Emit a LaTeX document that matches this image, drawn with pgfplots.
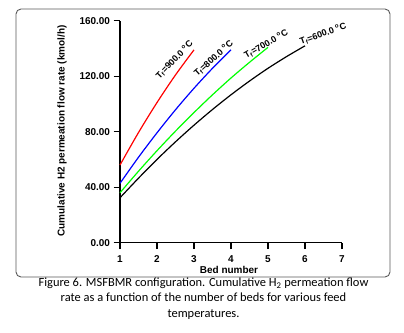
\documentclass[border=0pt]{standalone}
\usepackage{fontspec}
\setmainfont{Liberation Sans}
\newfontfamily\capfont{Carlito}
\usepackage{pgfplots}
\pgfplotsset{compat=1.18}
\begin{document}
\begin{tikzpicture}[x=1bp,y=1bp]
\useasboundingbox (0,0) rectangle (404,333);
\draw[draw=black!65, line width=0.9bp, rounded corners=5bp] (16,56) rectangle (390,324);
\begin{axis}[
  at={(120bp,90.3bp)}, anchor=origin,
  scale only axis, width=222bp, height=222bp,
  xmin=1, xmax=7, ymin=0, ymax=160,
  axis lines=left, axis line style={-, line width=1.4bp},
  enlargelimits=false, clip=false,
  xtick={1,2,3,4,5,6,7}, ytick={0,40,80,120,160},
  tick align=outside, major tick length=6.5bp,
  tick style={line width=1.2bp, black},
  yticklabel style={/pgf/number format/fixed, /pgf/number format/fixed zerofill, /pgf/number format/precision=2},
  xticklabel style={yshift=-3bp},
  /pgf/number format/assume math mode=true,
  ticklabel style={font=\fontsize{10}{12}\selectfont\bfseries},
]
\addplot[red, line width=1.2bp, smooth] coordinates {(1,56) (1.5,79.4) (2,101) (2.5,120.9) (3,139)};
\addplot[blue, line width=1.2bp, smooth] coordinates {(1,42.8) (1.5,61.6) (2,79.2) (2.5,95.8) (3,111.3) (3.5,125.7) (4,139)};
\addplot[green, line width=1.2bp, smooth] coordinates {(1,36) (1.5,51.5) (2,66.3) (2.5,80.4) (3,93.8) (3.5,106.6) (4,118.7) (4.5,130) (5,140.8)};
\addplot[black, line width=1.2bp, smooth] coordinates {(1,32.4) (1.5,46.5) (2,60) (2.5,72.7) (3,84.7) (3.5,96) (4,106.6) (4.5,116.5) (5,125.7) (5.5,134.1) (6,141.9)};
\node[rotate=46, font=\fontsize{9}{10}\selectfont\bfseries] at (axis cs:2.47,131.8) {T\textsubscript{f}=900.0 \textsuperscript{o}C};
\node[rotate=42, font=\fontsize{9}{10}\selectfont\bfseries] at (axis cs:3.53,132.8) {T\textsubscript{f}=800.0 \textsuperscript{o}C};
\node[rotate=30, font=\fontsize{9}{10}\selectfont\bfseries] at (axis cs:4.95,143.2) {T\textsubscript{f}=700.0 \textsuperscript{o}C};
\node[rotate=20, font=\fontsize{9}{10}\selectfont\bfseries] at (axis cs:6.49,150.6) {T\textsubscript{f}=600.0 \textsuperscript{o}C};
\end{axis}
\node[rotate=90, font=\fontsize{10}{12}\selectfont\bfseries] at (62,202) {Cumulative H2 permeation flow rate (kmol/h)};
\node[font=\fontsize{10}{12}\selectfont\bfseries] at (229,63) {Bed number};
\node[font=\capfont\fontsize{12.5}{15.5}\selectfont, align=center] at (203.5,34.5) {Figure 6. MSFBMR configuration. Cumulative H\textsubscript{2} permeation flow\\ rate as a function of the number of beds for various feed\\ temperatures.};
\end{tikzpicture}
\end{document}
